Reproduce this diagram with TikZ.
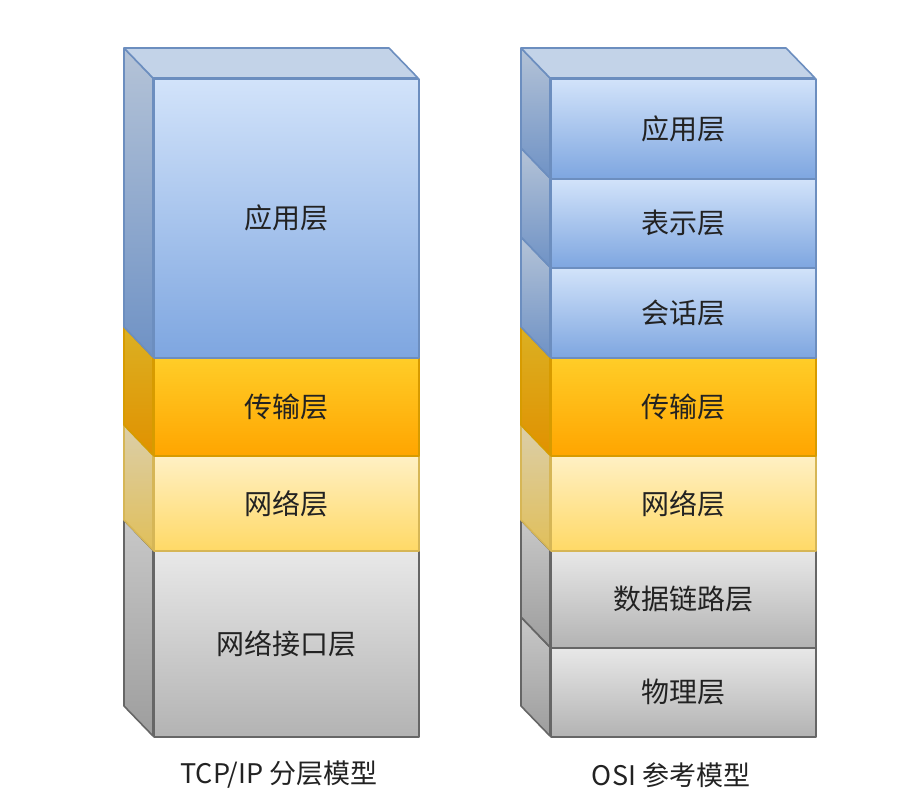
\documentclass[tikz,border=0pt]{standalone}
\usepackage{fontspec}
\newfontfamily\cjk{Noto Sans CJK SC}

% palettes: top of gradient, bottom of gradient, outline
\definecolor{bluTop}{HTML}{D2E3FA}
\definecolor{bluBot}{HTML}{7EA6E0}
\definecolor{bluLine}{HTML}{6C8EBF}
\definecolor{orgTop}{HTML}{FFCD28}
\definecolor{orgBot}{HTML}{FFA500}
\definecolor{orgLine}{HTML}{D79B00}
\definecolor{ylwTop}{HTML}{FFF0C4}
\definecolor{ylwBot}{HTML}{FFD966}
\definecolor{ylwLine}{HTML}{D6B656}
\definecolor{gryTop}{HTML}{E8E8E8}
\definecolor{gryBot}{HTML}{B3B3B3}
\definecolor{gryLine}{HTML}{666666}
\definecolor{ink}{HTML}{222222}

\tikzset{
  face/.style={line width=1.6pt, line join=round},
  layerbox/.style={face, rectangle, minimum width=265pt, inner sep=0pt,
    font=\cjk\fontsize{28}{32}\selectfont, text=ink},
  caption/.style={font=\cjk\fontsize{27}{32}\selectfont, text=ink, inner sep=0pt},
}

% one slab of a stack: name, front-left x, top y, bottom y, palette, label
\newcommand\stacklayer[6]{%
  \pgfmathsetmacro\slabh{#4-#3}%
  % left side face
  \draw[face, draw=#5Line, top color=#5Top!86!black, bottom color=#5Bot!88!black]
    (#2,#3) -- (#2-29,#3-30) -- (#2-29,#4-30) -- (#2,#4) -- cycle;
  % top face
  \draw[face, draw=#5Line, fill=#5Top!93!black]
    (#2,#3) -- (#2-29,#3-30) -- (#2+236,#3-30) -- (#2+265,#3) -- cycle;
  % front face with its label
  \node[layerbox, draw=#5Line, top color=#5Top, bottom color=#5Bot,
        minimum height=\slabh pt, anchor=north west] (#1) at (#2,#3) {#6};
}

\begin{document}
\begin{tikzpicture}[x=1pt, y=-1pt]
\useasboundingbox (0,0) rectangle (915,809);

% TCP/IP stack, drawn from the bottom up
\stacklayer{tcpLink}{153}{550}{736}{gry}{网络接口层}
\stacklayer{tcpNet}{153}{455}{550}{ylw}{网络层}
\stacklayer{tcpTrans}{153}{357}{455}{org}{传输层}
\stacklayer{tcpApp}{153}{78}{357}{blu}{应用层}

% OSI stack, drawn from the bottom up
\stacklayer{osiPhy}{550}{647}{736}{gry}{物理层}
\stacklayer{osiData}{550}{550}{647}{gry}{数据链路层}
\stacklayer{osiNet}{550}{455}{550}{ylw}{网络层}
\stacklayer{osiTrans}{550}{357}{455}{org}{传输层}
\stacklayer{osiSess}{550}{267}{357}{blu}{会话层}
\stacklayer{osiPres}{550}{178}{267}{blu}{表示层}
\stacklayer{osiApp}{550}{78}{178}{blu}{应用层}

% captions
\node[caption] (tcpCap) at (279,775) {TCP/IP 分层模型};
\node[caption] (osiCap) at (671,775) {OSI 参考模型};
\end{tikzpicture}
\end{document}
